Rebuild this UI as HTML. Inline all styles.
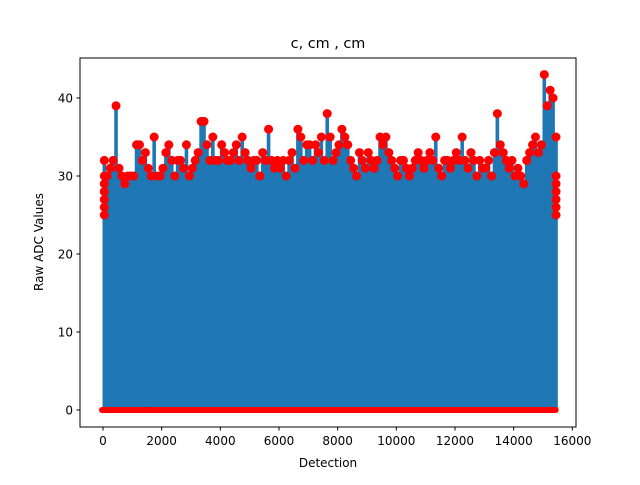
<!DOCTYPE html>
<html><head><meta charset="utf-8"><style>
body{margin:0;background:#fff}
svg text{font-family:"DejaVu Sans","Liberation Sans",sans-serif;fill:#000}
</style></head><body>
<svg id="chart" width="640" height="480" xmlns="http://www.w3.org/2000/svg">
<rect width="640" height="480" fill="#fff"/>
<g id="plot"></g>
<rect x="80" y="58" width="496" height="369" fill="none" stroke="#000" stroke-width="1"/>
<g id="ticks"></g>
<text x="328" y="48" font-size="14.4" text-anchor="middle">c, cm , cm</text>
<text x="328" y="467" font-size="12" text-anchor="middle">Detection</text>
<text x="43" y="242" font-size="12" text-anchor="middle" transform="rotate(-90 43 242)">Raw ADC Values</text>
</svg>
<script>
const detectionStep = 100;
const peakValues = [32,30,31,32,39,31,30,29,30,30,
30,34,34,32,33,31,30,35,30,30,
31,33,34,32,30,32,32,31,34,30,
31,32,33,37,37,34,32,35,32,32,
34,33,32,32,33,34,32,35,33,32,
31,32,32,30,33,32,36,32,31,32,
31,32,30,32,33,31,36,35,32,34,
34,32,34,33,35,32,38,35,32,33,
34,36,35,34,32,31,30,33,32,31,
33,32,31,32,35,34,35,33,32,31,
30,32,32,31,30,31,32,33,32,31,
32,33,32,35,31,30,32,32,31,32,
33,32,35,32,31,33,32,30,32,31,
31,32,30,33,38,34,33,32,31,32,
30,31,30,29,32,33,34,35,33,34,
43,39,41,40,35];
const edgeValues = [25,26,27,28,29,30];
const xTicks = [0,2000,4000,6000,8000,10000,12000,14000,16000];
const yTicks = [0,10,20,30,40];
const NS="http://www.w3.org/2000/svg";
function px(d){return 103+d*0.029333;}
function py(v){return 410-v*7.8;}
const plot=document.getElementById('plot');
function mk(tag,attrs){const e=document.createElementNS(NS,tag);for(const k in attrs)e.setAttribute(k,attrs[k]);return e;}
peakValues.forEach((v,i)=>{
  const d=i*detectionStep;
  const r=mk('rect',{x:px(d)-0.5,y:py(v),width:3.6,height:py(0)-py(v)-2,fill:'#1f77b4'});
  
  
  plot.appendChild(r);
});
const band=mk('rect',{x:px(0)-4,y:py(0)-3,width:px((peakValues.length-1)*detectionStep)-px(0)+8,height:6,rx:3,fill:'#ff0000'});


plot.appendChild(band);
const lastD=(peakValues.length-1)*detectionStep;
edgeValues.forEach(v=>{
  [0,lastD].forEach(d=>{
    const c=mk('circle',{cx:px(d)+1.3,cy:py(v),r:4.5,fill:'#ff0000'});
    
    
    plot.appendChild(c);
  });
});
peakValues.forEach((v,i)=>{
  const d=i*detectionStep;
  const c=mk('circle',{cx:px(d)+1.3,cy:py(v),r:4.5,fill:'#ff0000'});
  
  
  plot.appendChild(c);
});
const tg=document.getElementById('ticks');
xTicks.forEach(t=>{
  const x=px(t);
  const l=mk('line',{x1:x,x2:x,y1:427,y2:430.5,stroke:'#000'});
  
  
  tg.appendChild(l);
  const s=mk('text',{x:x,y:445,'font-size':12,'text-anchor':'middle'});
  s.textContent=t;
  
  
  tg.appendChild(s);
});
yTicks.forEach(t=>{
  const y=py(t);
  const l=mk('line',{x1:76.5,x2:80,y1:y,y2:y,stroke:'#000'});
  
  
  tg.appendChild(l);
  const s=mk('text',{x:73,y:y+4.5,'font-size':12,'text-anchor':'end'});
  s.textContent=t;
  
  
  tg.appendChild(s);
});
</script>
</body></html>
